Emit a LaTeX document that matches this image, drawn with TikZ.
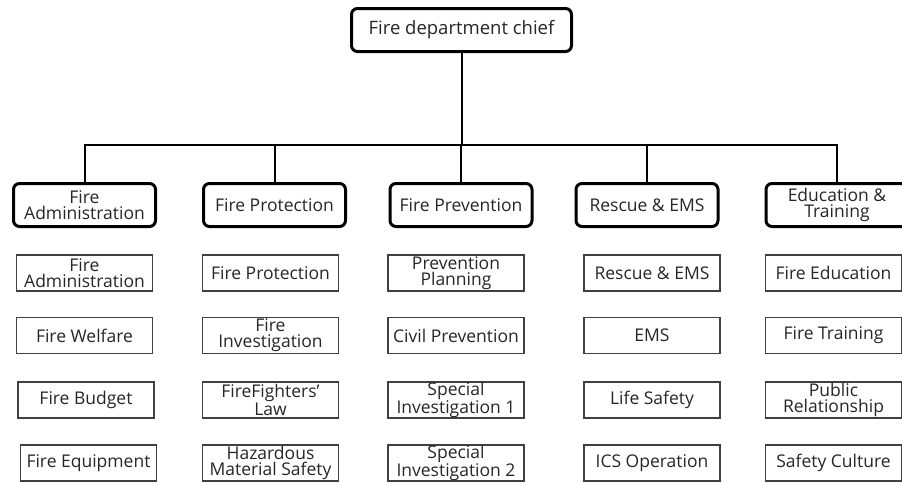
\documentclass[tikz,border=0pt]{standalone}
\usepackage{fontspec}
\setmainfont{Open Sans}
\usepackage{tikz}
\tikzstyle{every node}=[font=\fontsize{17.5}{16}\selectfont, text=black!85, align=center, inner sep=0pt]
\tikzstyle{chief}=[draw, line width=3pt, rounded corners=6pt, minimum width=220pt, minimum height=43pt, font=\fontsize{18.5}{16}\selectfont]
\tikzstyle{dept}=[draw, line width=3pt, rounded corners=6pt, minimum width=142pt, minimum height=43pt]
\tikzstyle{unit}=[draw=black!75, line width=1.2pt, minimum width=136pt, minimum height=36pt]
\tikzstyle{link}=[line width=2pt]

\begin{document}
\begin{tikzpicture}[x=1pt,y=-1pt]
\clip (0,0) rectangle (902,482);
\node[chief] (chief) at (461.5,30) {Fire department chief};
\coordinate (bar) at (0,145);

\node[dept] (admin) at (84.5,205) {Fire\\Administration};
\node[dept] (prot) at (274.5,205) {Fire Protection};
\node[dept] (prev) at (461,205) {Fire Prevention};
\node[dept] (resc) at (647,205) {Rescue \& EMS};
\node[dept] (edu) at (837,205) {Education \&\\Training};

\draw[link] (chief.south) -- (chief.south |- bar);
\draw[link] (admin.north) |- (edu.north |- bar) -- (edu.north);
\draw[link] (prot.north) -- (prot.north |- bar);
\draw[link] (prev.north) -- (prev.north |- bar);
\draw[link] (resc.north) -- (resc.north |- bar);

\node[unit] (admin1) at (84.5,273) {Fire\\Administration};
\node[unit] (admin2) at (84.5,335.5) {Fire Welfare};
\node[unit] (admin3) at (86,400) {Fire Budget};
\node[unit] (admin4) at (88.5,463) {Fire Equipment};

\node[unit] (prot1) at (270.5,273) {Fire Protection};
\node[unit] (prot2) at (270.5,335.5) {Fire\\Investigation};
\node[unit] (prot3) at (270.5,400) {FireFighters'\\Law};
\node[unit] (prot4) at (270.5,463) {Hazardous\\Material Safety};

\node[unit] (prev1) at (456,273) {Prevention\\Planning};
\node[unit] (prev2) at (456,335.5) {Civil Prevention};
\node[unit] (prev3) at (456,400) {Special\\Investigation 1};
\node[unit] (prev4) at (456,463) {Special\\Investigation 2};

\node[unit] (resc1) at (652,273) {Rescue \& EMS};
\node[unit] (resc2) at (652,335.5) {EMS};
\node[unit] (resc3) at (652,400) {Life Safety};
\node[unit] (resc4) at (652,463) {ICS Operation};

\node[unit] (edu1) at (833.5,273) {Fire Education};
\node[unit] (edu2) at (833.5,335.5) {Fire Training};
\node[unit] (edu3) at (833.5,400) {Public\\Relationship};
\node[unit] (edu4) at (833.5,463) {Safety Culture};
\end{tikzpicture}
\end{document}
